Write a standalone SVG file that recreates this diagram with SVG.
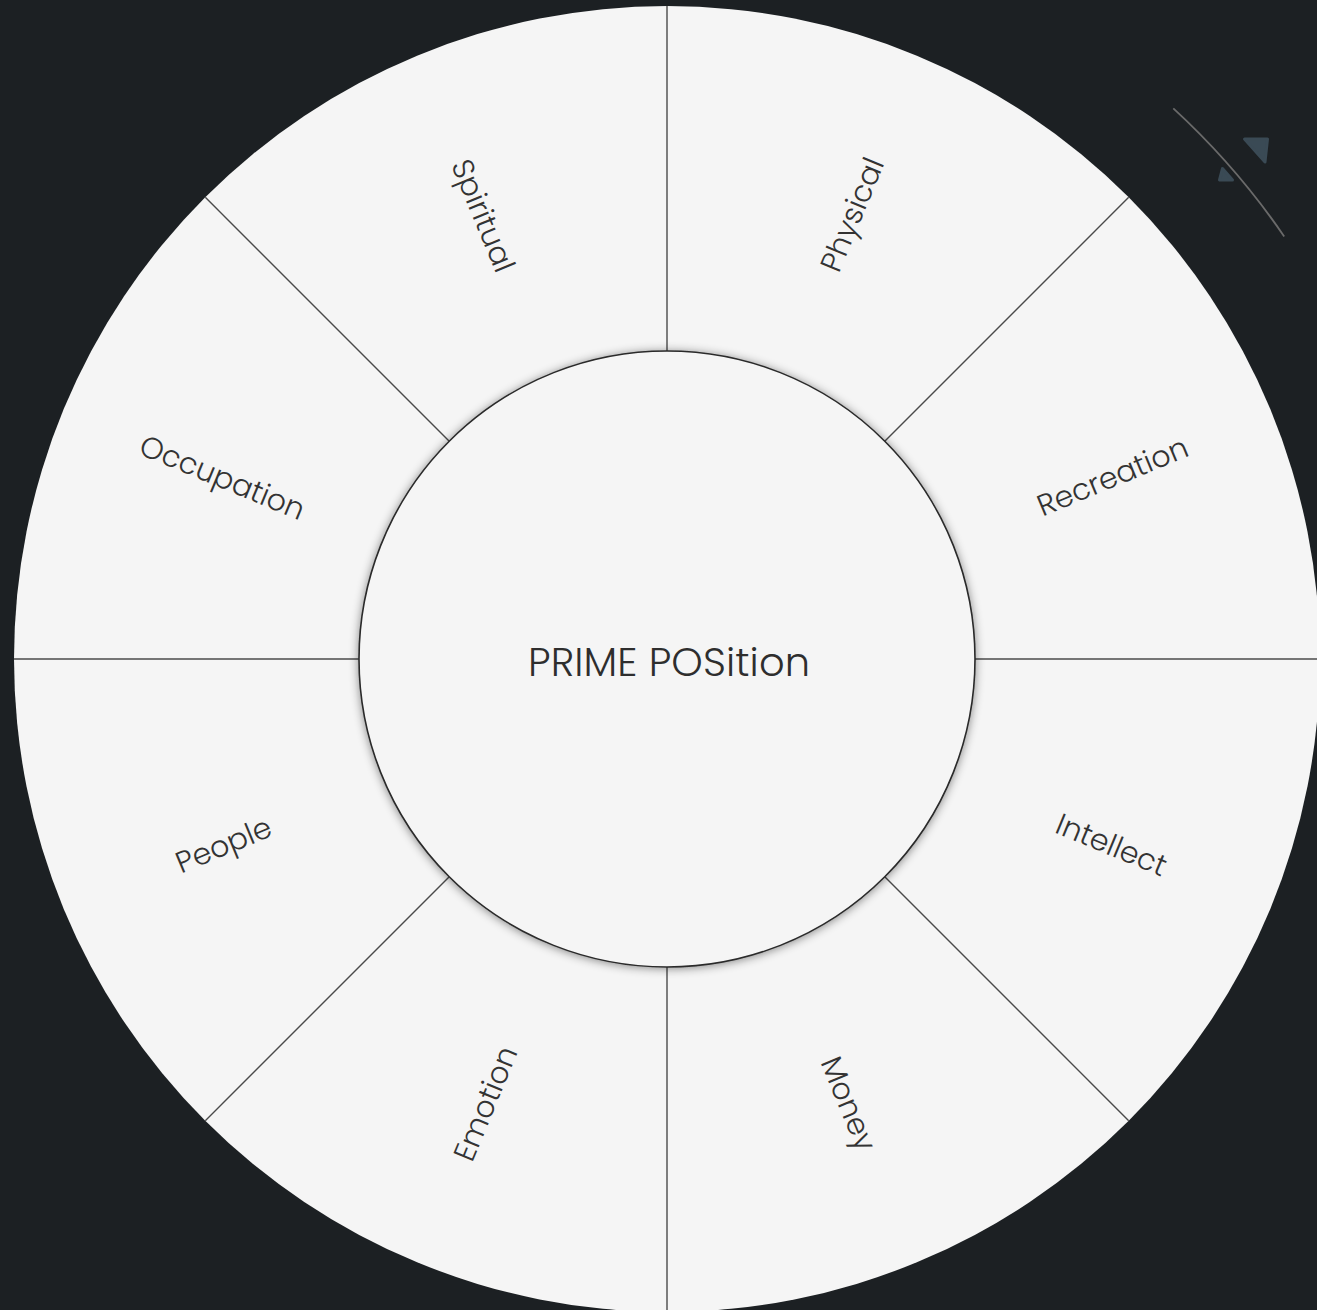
<svg xmlns="http://www.w3.org/2000/svg" width="1317" height="1310" viewBox="0 0 1317 1310">
  <style>
    .lbl { font-family: "Poppins", "Lato", "Inter", "Liberation Sans", sans-serif; font-weight: 300; font-size: 30px; fill: #333333; text-anchor: middle; }
    .center { font-family: "Poppins", "Lato", "Inter", "Liberation Sans", sans-serif; font-weight: 300; font-size: 40px; fill: #2e2e2e; text-anchor: middle; }
    .div { stroke: #4a4a4a; stroke-width: 1.4; fill: none; }
    .deco { fill: #3a4a55; stroke: #3a4a55; stroke-width: 3; stroke-linejoin: round; }
  </style>
  <defs>
    <filter id="shadow" x="-10%" y="-10%" width="120%" height="120%">
      <feGaussianBlur in="SourceAlpha" stdDeviation="5"/>
      <feOffset dx="0" dy="1" result="b"/>
      <feFlood flood-color="#000" flood-opacity="0.45"/>
      <feComposite in2="b" operator="in" result="s"/>
      <feMerge><feMergeNode in="s"/><feMergeNode in="SourceGraphic"/></feMerge>
    </filter>
  </defs>
  <rect width="1317" height="1310" fill="#1c2023"/>

  <g id="decoration">
    <path d="M1173.3,108.4 A748,748 0 0 1 1284.2,236.4" fill="none" stroke="#6a6a6a" stroke-width="1.8"/>
    <polygon class="deco" points="1244.5,139 1267.5,139 1265,162"/>
    <polygon class="deco" points="1222.5,168.5 1219.5,180 1232.5,180"/>
  </g>

  <g id="wheel">
    <circle cx="667" cy="659" r="653" fill="#f5f5f5"/>
  </g>

  <g id="connectors">
    <line class="div" x1="667" y1="659" x2="667" y2="6"/>
    <line class="div" x1="667" y1="659" x2="667" y2="1312"/>
    <line class="div" x1="667" y1="659" x2="14" y2="659"/>
    <line class="div" x1="667" y1="659" x2="1320" y2="659"/>
    <line class="div" x1="667" y1="659" x2="205.3" y2="197.3"/>
    <line class="div" x1="667" y1="659" x2="1128.7" y2="197.3"/>
    <line class="div" x1="667" y1="659" x2="205.3" y2="1120.7"/>
    <line class="div" x1="667" y1="659" x2="1128.7" y2="1120.7"/>
  </g>

  <g id="node-spiritual"><text class="lbl" transform="translate(483.3,215.5) rotate(67.5)" dy="0.35em">Spiritual</text></g>
  <g id="node-physical"><text class="lbl" transform="translate(852,214.5) rotate(-67.5)" dy="0.35em">Physical</text></g>
  <g id="node-recreation"><text class="lbl" transform="translate(1112.5,476.3) rotate(-22.5)" dy="0.35em">Recreation</text></g>
  <g id="node-intellect"><text class="lbl" transform="translate(1111.5,844.7) rotate(22.5)" dy="0.35em">Intellect</text></g>
  <g id="node-money"><text class="lbl" transform="translate(848.7,1103.5) rotate(67.5)" dy="0.35em">Money</text></g>
  <g id="node-emotion"><text class="lbl" transform="translate(485.3,1103.5) rotate(-67.5)" dy="0.35em">Emotion</text></g>
  <g id="node-people"><text class="lbl" transform="translate(223.5,844.7) rotate(-22.5)" dy="0.35em">People</text></g>
  <g id="node-occupation"><text class="lbl" transform="translate(222.5,477.3) rotate(22.5)" dy="0.35em">Occupation</text></g>

  <g id="node-center">
    <circle cx="667" cy="659" r="308" fill="#f5f5f5" stroke="#2a2a2a" stroke-width="1.6" filter="url(#shadow)"/>
    <text class="center" x="669" y="662" dy="0.35em" textLength="282" lengthAdjust="spacing">PRIME POSition</text>
  </g>
</svg>
